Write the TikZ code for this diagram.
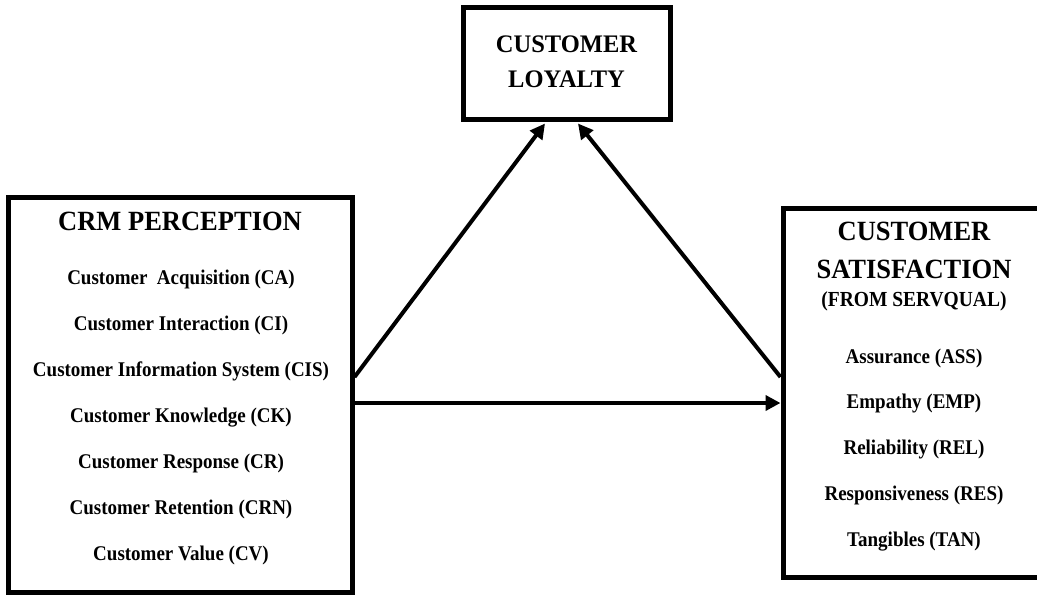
\documentclass[tikz,border=0pt]{standalone}
\usepackage{fontspec}
\setmainfont{Liberation Serif}
\usetikzlibrary{arrows.meta}
\begin{document}
\begin{tikzpicture}[x=1pt,y=-1pt,
  boxst/.style={draw=black,line width=5pt,inner sep=0pt},
  ttl/.style={anchor=base,inner sep=0pt,yscale=1.05,transform shape,font=\fontsize{26.5}{30}\selectfont\bfseries},
  ttlsmall/.style={anchor=base,inner sep=0pt,yscale=1.03,transform shape,font=\fontsize{24.5}{28}\selectfont\bfseries},
  itm/.style={anchor=base,inner sep=0pt,yscale=1.1,transform shape,font=\fontsize{19}{22}\selectfont\bfseries},
  arr/.style={line width=4pt,-{Triangle[length=15pt,width=15pt]}}]
\useasboundingbox (0,0) rectangle (1037,595);
% boxes
\node[boxst,minimum width=344pt,minimum height=395pt] (L) at (180,394.5) {};
\node[boxst,minimum width=262pt,minimum height=369pt] (R) at (914,392.5) {};
\node[boxst,minimum width=207pt,minimum height=112pt] (T) at (566.5,63) {};
% top box text
\node[ttlsmall] (t1) at (566.5,52) {CUSTOMER};
\node[ttlsmall] (t2) at (566.5,87) {LOYALTY};
% left box text
\node[ttl] (l0) at (180,230) {CRM PERCEPTION};
\node[itm] (l1) at (181,284) {Customer\ \ Acquisition (CA)};
\node[itm] (l2) at (181,330) {Customer Interaction (CI)};
\node[itm] (l3) at (181,376) {Customer Information System (CIS)};
\node[itm] (l4) at (181,422) {Customer Knowledge (CK)};
\node[itm] (l5) at (181,468) {Customer Response (CR)};
\node[itm] (l6) at (181,514) {Customer Retention (CRN)};
\node[itm] (l7) at (181,560) {Customer Value (CV)};
% right box text
\node[ttl] (r0) at (914,240) {CUSTOMER};
\node[ttl] (r1) at (914,278) {SATISFACTION};
\node[itm,font=\fontsize{19.5}{22}\selectfont\bfseries] (r2) at (914,306) {(FROM SERVQUAL)};
\node[itm] (r3) at (914,363) {Assurance (ASS)};
\node[itm] (r4) at (914,408) {Empathy (EMP)};
\node[itm] (r5) at (914,454) {Reliability (REL)};
\node[itm] (r6) at (914,500) {Responsiveness (RES)};
\node[itm] (r7) at (914,546) {Tangibles (TAN)};
% connectors
\coordinate (la) at ([yshift=17.5pt]L.east);
\coordinate (lh) at ([yshift=-8.5pt]L.east);
\coordinate (ra) at ([yshift=15.5pt]R.west);
\coordinate (ta) at ([xshift=-21.5pt,yshift=-2pt]T.south);
\coordinate (tb) at ([xshift=11.5pt,yshift=-2pt]T.south);
\draw[arr] (la) -- (ta);
\draw[arr] (ra) -- (tb);
\draw[arr] (lh) -- (R.west |- lh);
\end{tikzpicture}
\end{document}
